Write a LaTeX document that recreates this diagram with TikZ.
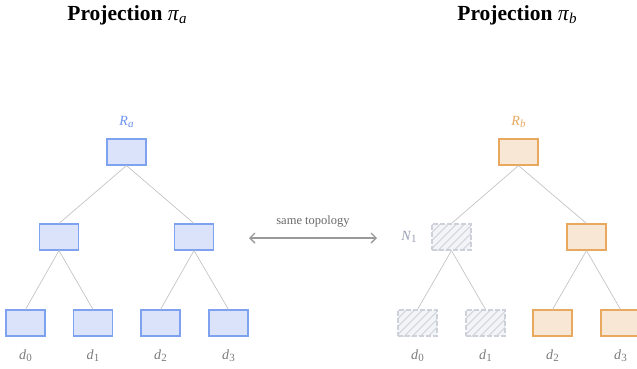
\documentclass[tikz,border=0pt]{standalone}
\usepackage{fontspec}
\setmainfont{Liberation Serif}
\usetikzlibrary{arrows.meta}
\definecolor{bfill}{HTML}{DAE3FA}
\definecolor{bline}{HTML}{7FA2F0}
\definecolor{ofill}{HTML}{F8E7D4}
\definecolor{oline}{HTML}{E8A85E}
\definecolor{hfill}{HTML}{F2F4F7}
\definecolor{hline}{HTML}{CDD2DA}
\definecolor{hpat}{HTML}{CDD2DA}
\definecolor{edgec}{HTML}{C4C4C4}
\definecolor{lblgray}{HTML}{7A7A7A}
\definecolor{ngray}{HTML}{98A0B2}
\definecolor{arrc}{HTML}{9A9A9A}
\definecolor{rblue}{HTML}{6E92F0}
\newcommand{\mysb}[2]{#1\raisebox{-0.35ex}{\fontsize{11}{12}\selectfont #2}}
\tikzset{
  tbox/.style={minimum width=39pt,minimum height=26pt,inner sep=0pt,line width=1.1pt},
  bluebox/.style={tbox,draw=bline,fill=bfill},
  orangebox/.style={tbox,draw=oline,fill=ofill},
  hatchbox/.style={tbox,draw=hline,dash pattern=on 5pt off 2pt,fill=hfill,
    path picture={
      \foreach \i in {-48,-40,...,48}
        \draw[hpat,line width=0.8pt,solid]
          ([xshift=\i pt-20pt,yshift=-20pt]path picture bounding box.center) --
          ([xshift=\i pt+20pt,yshift=20pt]path picture bounding box.center);
    }},
  edge/.style={draw=edgec,line width=0.7pt},
  lbl/.style={font=\fontsize{14}{16}\selectfont},
  leaflbl/.style={lbl,text=lblgray},
  title/.style={font=\fontsize{21.5}{24}\selectfont\bfseries},
}
\begin{document}
\begin{tikzpicture}[x=1pt,y=-1pt]
\useasboundingbox (0,0) rectangle (637,368);
% titles
\node[title] (ta) at (127,15) {Projection \textit{\mdseries π}\raisebox{-0.35ex}{\fontsize{15}{16}\selectfont\mdseries\itshape a}};
\node[title] (tb) at (517,15) {Projection \textit{\mdseries π}\raisebox{-0.35ex}{\fontsize{15}{16}\selectfont\mdseries\itshape b}};
% left tree
\node[bluebox] (ar) at (126.5,152) {};
\node[bluebox] (al) at (59,237) {};
\node[bluebox] (aR) at (194,237) {};
\node[bluebox] (a0) at (25.5,323) {};
\node[bluebox] (a1) at (93,323) {};
\node[bluebox] (a2) at (160.5,323) {};
\node[bluebox] (a3) at (228.5,323) {};
\draw[edge] (ar.south) -- (al.north);
\draw[edge] (ar.south) -- (aR.north);
\draw[edge] (al.south) -- (a0.north);
\draw[edge] (al.south) -- (a1.north);
\draw[edge] (aR.south) -- (a2.north);
\draw[edge] (aR.south) -- (a3.north);
\node[lbl,text=rblue] (lra) at (126.5,122) {\mysb{\textit{R}}{\textit{a}}};
\node[leaflbl] (la0) at (25.5,356) {\mysb{\textit{d}}{0}};
\node[leaflbl] (la1) at (93,356) {\mysb{\textit{d}}{1}};
\node[leaflbl] (la2) at (160.5,356) {\mysb{\textit{d}}{2}};
\node[leaflbl] (la3) at (228.5,356) {\mysb{\textit{d}}{3}};
% right tree
\node[orangebox] (br) at (518.5,152) {};
\node[hatchbox] (bl) at (451.5,237) {};
\node[orangebox] (bR) at (586.5,237) {};
\node[hatchbox] (b0) at (417.5,323) {};
\node[hatchbox] (b1) at (485.5,323) {};
\node[orangebox] (b2) at (552.5,323) {};
\node[orangebox] (b3) at (620.5,323) {};
\draw[edge] (br.south) -- (bl.north);
\draw[edge] (br.south) -- (bR.north);
\draw[edge] (bl.south) -- (b0.north);
\draw[edge] (bl.south) -- (b1.north);
\draw[edge] (bR.south) -- (b2.north);
\draw[edge] (bR.south) -- (b3.north);
\node[lbl,text=oline] (lrb) at (518.5,122) {\mysb{\textit{R}}{\textit{b}}};
\node[lbl,text=ngray] (ln1) at (409,237) {\mysb{\textit{N}}{1}};
\node[leaflbl] (lb0) at (417.5,356) {\mysb{\textit{d}}{0}};
\node[leaflbl] (lb1) at (485.5,356) {\mysb{\textit{d}}{1}};
\node[leaflbl] (lb2) at (552.5,356) {\mysb{\textit{d}}{2}};
\node[leaflbl] (lb3) at (620.5,356) {\mysb{\textit{d}}{3}};
% arrow
\coordinate (arl) at (249,238);
\coordinate (arr) at (377,238);
\draw[draw=arrc,line width=1.4pt,{Straight Barb[length=5pt,width=10pt]}-{Straight Barb[length=5pt,width=10pt]}] (arl) -- (arr);
\node[text=lblgray!85!black,font=\fontsize{12.5}{14}\selectfont] (same) at (313,222) {same topology};
\end{tikzpicture}
\end{document}
